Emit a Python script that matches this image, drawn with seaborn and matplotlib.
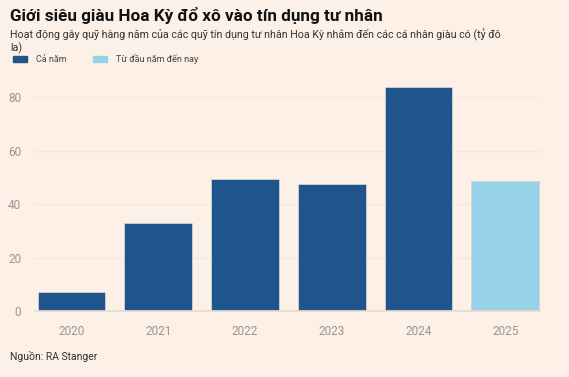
import matplotlib
matplotlib.use('Agg')
import matplotlib.pyplot as plt
import seaborn as sns
import pandas as pd
from matplotlib.patches import Rectangle

# Dữ liệu
nam = ['2020', '2021', '2022', '2023', '2024', '2025']
gia_tri = [7.1, 32.9, 49.3, 47.5, 83.7, 48.6]
loai = ['Cả năm', 'Cả năm', 'Cả năm', 'Cả năm', 'Cả năm', 'Từ đầu năm đến nay']
mau = {'Cả năm': '#1f558b', 'Từ đầu năm đến nay': '#97d3e8'}
y_ticks = [0, 20, 40, 60, 80]

nen = '#fdf0e6'
xam = '#9a9592'

df = pd.DataFrame({'nam': nam, 'gia_tri': gia_tri, 'loai': loai})

sns.set_theme(style='white')
plt.rcParams['font.family'] = ['Roboto', 'DejaVu Sans']

fig = plt.figure(figsize=(5.69, 3.77), dpi=100, facecolor=nen)
ax = fig.add_axes([0.0615, 0.175, 0.8875, 0.603])
ax.set_facecolor(nen)

sns.barplot(data=df, x='nam', y='gia_tri', hue='loai', palette=mau,
            dodge=False, width=0.78, legend=False, ax=ax, saturation=1,
            edgecolor='#c9d4de', linewidth=0.6)

ax.set_xlim(-0.42, 5.4)
ax.set_ylim(0, 85)
ax.set_yticks(y_ticks)
ax.grid(axis='y', color='#f3e6dc', linewidth=0.8)
ax.set_axisbelow(True)
for s in ['top', 'right', 'left']:
    ax.spines[s].set_visible(False)
ax.spines['bottom'].set_color('#e6dbd2')
ax.tick_params(axis='x', length=4, color='#e6dbd2', labelsize=8.5, labelcolor=xam, pad=6)
ax.tick_params(axis='y', length=0, labelsize=8.5, labelcolor=xam, pad=10)
ax.set_xlabel('')
ax.set_ylabel('')

# Tiêu đề, phụ đề
fig.text(0.018, 0.943, 'Giới siêu giàu Hoa Kỳ đổ xô vào tín dụng tư nhân',
         fontsize=12.3, fontweight='bold', color='#111111')
fig.text(0.018, 0.897, 'Hoạt động gây quỹ hàng năm của các quỹ tín dụng tư nhân Hoa Kỳ nhắm đến các cá nhân giàu có (tỷ đô',
         fontsize=7.7, color='#333333')
fig.text(0.018, 0.863, 'la)', fontsize=7.7, color='#333333')

# Chú giải
fig.patches.append(Rectangle((13/569, 1 - 62/377), 14/569, 6/377,
                             transform=fig.transFigure, color=mau['Cả năm']))
fig.text(36/569, 1 - 62/377, 'Cả năm', fontsize=6.5, color='#444444')
fig.patches.append(Rectangle((93/569, 1 - 62/377), 14/569, 6/377,
                             transform=fig.transFigure, color=mau['Từ đầu năm đến nay']))
fig.text(116/569, 1 - 62/377, 'Từ đầu năm đến nay', fontsize=6.5, color='#444444')

fig.text(0.018, 0.045, 'Nguồn: RA Stanger', fontsize=7.5, color='#333333')

fig.savefig('out.png', dpi=100, facecolor=nen)
